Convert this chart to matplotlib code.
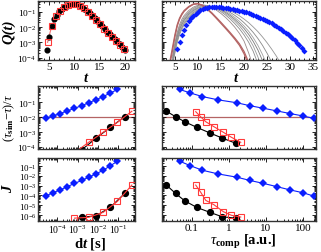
import numpy as np
import matplotlib
matplotlib.use("Agg")
import matplotlib.pyplot as plt
from matplotlib.ticker import LogLocator, NullFormatter, FixedLocator, FixedFormatter, MultipleLocator

plt.rcParams['font.family'] = ['Liberation Serif', 'DejaVu Serif']
plt.rcParams['mathtext.fontset'] = 'custom'
plt.rcParams['mathtext.rm'] = 'Liberation Serif'
plt.rcParams['mathtext.it'] = 'Liberation Serif:italic'
plt.rcParams['mathtext.bf'] = 'Liberation Serif:bold'
plt.rcParams['mathtext.bfit'] = 'Liberation Serif:italic:bold'

# ---------------- data (log10 of the plotted values) ----------------
# top-left: Q(t)
t_black = [4.5, 5, 5.5, 6, 6.5, 7, 7.5, 8, 8.5, 9, 9.5, 10, 10.5, 11, 11.5, 12, 12.5, 13,
           13.5, 14, 14.5, 15, 15.5, 16, 16.5, 17, 17.5, 18, 18.5, 19, 19.5, 20]
lq_black = [-3.5, -2.65, -1.95, -1.5, -1.2, -0.98, -0.82, -0.7, -0.6, -0.53, -0.49, -0.48,
            -0.52, -0.59, -0.68, -0.8, -0.95, -1.1, -1.27, -1.44, -1.62, -1.8, -1.96, -2.13,
            -2.3, -2.46, -2.63, -2.8, -2.97, -3.14, -3.32, -3.5]
t_red = [4.7, 5.5, 6.3, 7.1, 7.9, 8.7, 9.5, 10.3, 11.1, 11.9, 12.7, 13.5, 14.3, 15.1,
         15.9, 16.7, 17.5, 18.3, 19.1, 19.9]
lq_red = [-3.0, -1.95, -1.3, -0.95, -0.72, -0.57, -0.49, -0.5, -0.6, -0.78, -1.01, -1.27,
          -1.55, -1.83, -2.1, -2.36, -2.63, -2.9, -3.17, -3.46]

# top-right: family of curves + blue distribution
t_brown = [4, 4.5, 5, 5.5, 6, 6.5, 7, 8, 9, 10, 11, 12, 13, 14, 15, 16, 17, 18, 19, 20, 21]
lq_brown1 = [-4.3, -3.5, -2.65, -1.95, -1.5, -1.2, -0.98, -0.7, -0.52, -0.48, -0.6, -0.85,
             -1.12, -1.44, -1.77, -2.1, -2.44, -2.8, -3.2, -3.75, -4.5]
lq_brown2 = [-4.1, -3.3, -2.5, -1.85, -1.42, -1.13, -0.92, -0.66, -0.5, -0.47, -0.58, -0.8,
             -1.07, -1.38, -1.7, -2.03, -2.37, -2.72, -3.1, -3.6, -4.3]
t_gray = [4.5, 5, 5.5, 6, 6.5, 7, 8, 9, 10, 11, 12, 13, 14, 15, 16, 17, 18, 19, 20, 21,
          22, 23, 24, 25, 26, 27, 28]
nan = np.nan
lq_gray = [
    [-3.9, -3.05, -2.35, -1.85, -1.5, -1.25, -0.92, -0.7, -0.58, -0.55, -0.6, -0.72, -0.9, -1.12,
     -1.38, -1.68, -2.02, -2.42, -2.92, -3.7, -4.6, nan, nan, nan, nan, nan, nan],
    [-4.0, -3.2, -2.5, -2.0, -1.65, -1.38, -1.02, -0.78, -0.64, -0.58, -0.6, -0.68, -0.82, -1.0,
     -1.22, -1.48, -1.78, -2.12, -2.52, -3.0, -3.6, -4.4, nan, nan, nan, nan, nan],
    [-4.1, -3.3, -2.6, -2.1, -1.75, -1.48, -1.1, -0.85, -0.7, -0.62, -0.61, -0.66, -0.77, -0.92,
     -1.12, -1.35, -1.62, -1.93, -2.3, -2.72, -3.25, -3.95, -4.8, nan, nan, nan, nan],
    [-4.2, -3.4, -2.7, -2.2, -1.85, -1.57, -1.18, -0.92, -0.76, -0.67, -0.64, -0.66, -0.74, -0.87,
     -1.04, -1.25, -1.5, -1.78, -2.1, -2.48, -2.95, -3.5, -4.2, nan, nan, nan, nan],
    [-4.3, -3.5, -2.8, -2.3, -1.95, -1.66, -1.26, -0.98, -0.81, -0.71, -0.67, -0.67, -0.72, -0.82,
     -0.97, -1.16, -1.38, -1.64, -1.94, -2.28, -2.7, -3.2, -3.8, -4.5, nan, nan, nan],
    [-4.4, -3.6, -2.9, -2.4, -2.05, -1.76, -1.35, -1.06, -0.87, -0.75, -0.7, -0.68, -0.7, -0.77,
     -0.89, -1.05, -1.24, -1.46, -1.72, -2.02, -2.36, -2.75, -3.2, -3.72, -4.3, nan, nan],
    [-4.5, -3.7, -3.0, -2.5, -2.15, -1.86, -1.44, -1.14, -0.93, -0.8, -0.73, -0.7, -0.7, -0.74,
     -0.82, -0.94, -1.09, -1.27, -1.48, -1.72, -2.0, -2.3, -2.65, -3.03, -3.45, -3.9, -4.4],
]
gray_colors = ['#9a8a8a', '#8c8c8c', '#9a9a9a', '#7a7a7a', '#a0a0a0', '#888888', '#959595']
t_blue = [5.5, 6, 6.5, 7, 7.5, 8, 8.5, 9, 9.5, 10, 10.5, 11, 11.5, 12, 12.5, 13, 13.5, 14,
          14.5, 15, 15.5, 16, 16.5, 17, 17.5, 18, 18.5, 19, 19.5, 20, 20.5, 21, 21.5, 22,
          22.5, 23, 23.5, 24, 24.5, 25, 25.5, 26, 26.5, 27, 27.5, 28, 28.5, 29, 29.5, 30,
          30.5, 31, 31.5, 32, 32.5, 33]
lq_blue = [-3.44, -3.0, -2.55, -2.2, -1.9, -1.64, -1.43, -1.26, -1.12, -1.0, -0.91, -0.84,
           -0.78, -0.74, -0.71, -0.7, -0.69, -0.69, -0.7, -0.71, -0.73, -0.75, -0.77, -0.8,
           -0.83, -0.86, -0.89, -0.93, -0.97, -1.01, -1.05, -1.1, -1.15, -1.2, -1.26, -1.32,
           -1.38, -1.45, -1.52, -1.6, -1.68, -1.76, -1.85, -1.94, -2.04, -2.14, -2.25, -2.36,
           -2.48, -2.6, -2.73, -2.87, -3.02, -3.18, -3.36, -3.56]

# middle / bottom left: vs dt
dt_blue = [2.8e-5, 6.3e-5, 1.4e-4, 3.2e-4, 7.1e-4, 1.6e-3, 3.5e-3, 7.9e-3, 1.8e-2, 4.0e-2, 8.9e-2]
lerr_blue = [-2.07, -1.91, -1.75, -1.57, -1.39, -1.22, -1.02, -0.82, -0.6, -0.36, -0.12]
lJ_blue = [-4.06, -3.72, -3.44, -3.10, -2.77, -2.47, -2.14, -1.80, -1.43, -0.97, -0.51]
dt_black = [1.6e-3, 7.9e-3, 4.0e-2, 0.2]
lerr_black = [-4.2, -3.42, -2.68, -1.96]
lJ_black = [-6.23, -6.07, -5.21, -3.79]
dt_red = [7.1e-4, 3.5e-3, 1.8e-2, 8.9e-2, 0.45]
lerr_red = [-4.4, -3.69, -3.01, -2.34, -1.59]
lJ_red = [-6.31, -6.23, -5.72, -4.6, -2.94]

# middle / bottom right: vs tau_comp
tau_blue = [0.048, 0.093, 0.195, 0.51, 1.66, 3.7, 8.5, 19.5, 45, 98, 190]
tau_black = [0.021, 0.037, 0.065, 0.138, 0.31, 0.66, 1.55]
lerr_black_r = [-1.59, -1.96, -2.30, -2.68, -3.06, -3.40, -3.76]
lJ_black_r = [-2.94, -3.79, -4.54, -5.22, -5.72, -6.17, -6.31]
tau_red = [0.129, 0.174, 0.24, 0.40, 0.71, 1.17, 2.09]
lerr_red_r = [-1.62, -1.96, -2.30, -2.64, -3.01, -3.35, -3.69]
lJ_red_r = [-2.94, -3.65, -4.5, -4.95, -5.65, -6.02, -6.2]

ref_level = 1e-2
ytick_top = [1e-4, 1e-3, 1e-2, 1e-1]
ytick_mid = [1e-4, 1e-3, 1e-2, 1e-1]
ytick_bot = [1e-6, 1e-5, 1e-4, 1e-3, 1e-2, 1e-1]
xtick_dt = [1e-4, 1e-3, 1e-2, 1e-1]
xtick_tau = [0.1, 1, 10, 100]
xtick_tau_lab = ['0.1', '1', '10', '100']

P = lambda a: 10 ** np.asarray(a, dtype=float)

# ---------------- figure ----------------
W, H = 321, 253
fig = plt.figure(figsize=(W / 100, H / 100), dpi=100)

def axpos(x0, y0, x1, y1):
    return fig.add_axes([x0 / W, 1 - y1 / H, (x1 - x0) / W, (y1 - y0) / H])

ax_tl = axpos(38, 2, 135, 61)
ax_tr = axpos(162, 2, 316, 61)
ax_ml = axpos(38, 87, 135, 150)
ax_mr = axpos(162, 87, 316, 150)
ax_bl = axpos(38, 159, 135, 222)
ax_br = axpos(162, 159, 316, 222)

BLUE = '#0a1eff'
RED = '#ff3a3a'
BROWN = '#b46464'

def style(ax):
    ax.tick_params(which='both', direction='in', top=True, right=True, width=0.6)
    ax.tick_params(which='major', length=3, labelsize=6.8, pad=1.5)
    ax.tick_params(which='minor', length=1.6)
    for s in ax.spines.values():
        s.set_linewidth(1.0)
        s.set_color('#333333')

def logy(ax, ticks, lo, hi, labels=True):
    ax.set_yscale('log')
    ax.set_ylim(lo, hi)
    ax.yaxis.set_major_locator(FixedLocator(ticks))
    ax.yaxis.set_minor_locator(LogLocator(base=10, subs=np.arange(2, 10), numticks=100))
    ax.yaxis.set_minor_formatter(NullFormatter())
    if not labels:
        ax.yaxis.set_major_formatter(NullFormatter())

def logx(ax, ticks, lo, hi):
    ax.set_xscale('log')
    ax.set_xlim(lo, hi)
    ax.xaxis.set_major_locator(FixedLocator(ticks))
    ax.xaxis.set_minor_locator(LogLocator(base=10, subs=np.arange(2, 10), numticks=100))
    ax.xaxis.set_minor_formatter(NullFormatter())

for ax in (ax_tl, ax_tr, ax_ml, ax_mr, ax_bl, ax_br):
    style(ax)

# top-left
ax_tl.plot(t_red, P(lq_red), '-', color='#f07070', lw=0.8, zorder=2)
ax_tl.plot(t_black, P(lq_black), 'o', color='black', ms=3.4, zorder=3)
ax_tl.plot(t_red, P(lq_red), 's', mfc='none', mec=RED, mew=0.8, ms=4.2, zorder=4)
logy(ax_tl, ytick_top, 7e-5, 0.5)
ax_tl.set_xlim(2.8, 22)
ax_tl.xaxis.set_major_locator(FixedLocator([5, 10, 15, 20]))
ax_tl.xaxis.set_minor_locator(MultipleLocator(1))

# top-right
for lq, c in zip(lq_gray, gray_colors):
    ax_tr.plot(t_gray, P(lq), '-', color=c, lw=0.6)
ax_tr.plot(t_brown, P(lq_brown1), '-', color=BROWN, lw=0.9)
ax_tr.plot(t_brown, P(lq_brown2), '-', color=BROWN, lw=0.9)
ax_tr.plot(t_blue, P(lq_blue), 'D', color=BLUE, ms=3.0, mew=0)
logy(ax_tr, ytick_top, 7e-5, 0.5, labels=False)
ax_tr.set_xlim(2.2, 35.6)
ax_tr.xaxis.set_major_locator(FixedLocator([5, 10, 15, 20, 25, 30, 35]))
ax_tr.xaxis.set_minor_locator(MultipleLocator(1))

# middle-left
ax_ml.axhline(ref_level, color=BROWN, lw=0.9, zorder=1)
ax_ml.plot(dt_blue, P(lerr_blue), 'D-', color=BLUE, ms=3.6, lw=0.8, mew=0)
ax_ml.plot(dt_black, P(lerr_black), 'o-', color='black', ms=4.2, lw=0.8)
ax_ml.plot(dt_red, P(lerr_red), 's-', color=RED, mfc='none', mec=RED, mew=0.8, ms=4.6, lw=0.8)
logy(ax_ml, ytick_mid, 7.2e-5, 1.3)
logx(ax_ml, xtick_dt, 1.18e-5, 0.64)
ax_ml.xaxis.set_major_formatter(NullFormatter())

# middle-right
ax_mr.axhline(ref_level, color=BROWN, lw=0.9, zorder=1)
ax_mr.plot(tau_blue, P(lerr_blue[::-1]), 'D-', color=BLUE, ms=3.6, lw=0.8, mew=0)
ax_mr.plot(tau_black, P(lerr_black_r), 'o-', color='black', ms=4.2, lw=0.8)
ax_mr.plot(tau_red, P(lerr_red_r), 's-', color=RED, mfc='none', mec=RED, mew=0.8, ms=4.6, lw=0.8)
logy(ax_mr, ytick_mid, 7.2e-5, 1.3, labels=False)
logx(ax_mr, xtick_tau, 0.016, 220)
ax_mr.xaxis.set_major_formatter(NullFormatter())

# bottom-left
ax_bl.plot(dt_blue, P(lJ_blue), 'D-', color=BLUE, ms=3.6, lw=0.8, mew=0)
ax_bl.plot(dt_black, P(lJ_black), 'o-', color='black', ms=4.2, lw=0.8)
ax_bl.plot(dt_red, P(lJ_red), 's-', color=RED, mfc='none', mec=RED, mew=0.8, ms=4.6, lw=0.8)
logy(ax_bl, ytick_bot, 2.5e-7, 0.66)
logx(ax_bl, xtick_dt, 1.18e-5, 0.64)

# bottom-right
ax_br.plot(tau_blue, P(lJ_blue[::-1]), 'D-', color=BLUE, ms=3.6, lw=0.8, mew=0)
ax_br.plot(tau_black, P(lJ_black_r), 'o-', color='black', ms=4.2, lw=0.8)
ax_br.plot(tau_red, P(lJ_red_r), 's-', color=RED, mfc='none', mec=RED, mew=0.8, ms=4.6, lw=0.8)
logy(ax_br, ytick_bot, 2.5e-7, 0.66, labels=False)
logx(ax_br, xtick_tau, 0.016, 220)
ax_br.xaxis.set_major_formatter(FixedFormatter(xtick_tau_lab))

for ax in (ax_tl, ax_tr, ax_br):
    ax.tick_params(axis='x', labelsize=8)
ax_bl.tick_params(axis='x', labelsize=7)
ax_bl.tick_params(axis='y', labelsize=6.5, pad=1)

# axis labels
def ftext(x, y, s, **kw):
    fig.text(x / W, 1 - y / H, s, ha='center', va='center', **kw)

ftext(9, 32, 'Q(t)', rotation=90, fontsize=10.5, fontweight='bold', fontstyle='italic')
ftext(9, 118, r'$(\tau_{\mathbf{sim}}\mathrm{-}\tau)/\tau$', rotation=90, fontsize=9)
ftext(9, 189, 'J', rotation=90, fontsize=10.5, fontweight='bold', fontstyle='italic')
ftext(86, 78, 't', fontsize=10.5, fontweight='bold', fontstyle='italic')
ftext(236, 78, 't', fontsize=10.5, fontweight='bold', fontstyle='italic')
ftext(90, 244, r'd$\mathbfit{t}$ [s]', fontsize=10.5, fontweight='bold')
ftext(243, 242, r'$\tau_{\mathbf{comp}}$ [a.u.]', fontsize=10.5, fontweight='bold')

fig.savefig('out.png', dpi=100)
